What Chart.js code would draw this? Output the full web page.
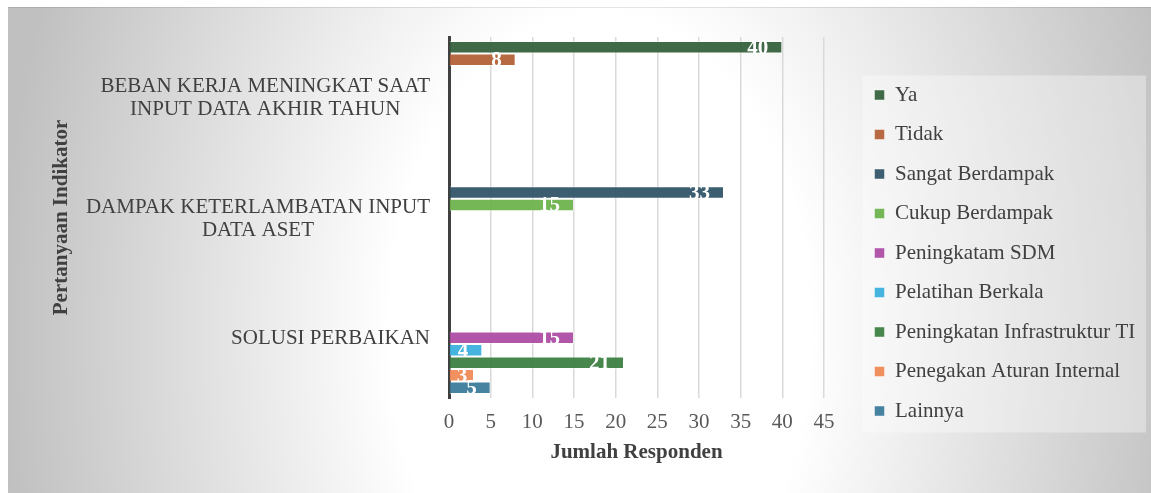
<!DOCTYPE html>
<html>
<head>
<meta charset="utf-8">
<script src="https://cdn.jsdelivr.net/npm/chart.js@4.4.1/dist/chart.umd.min.js"></script>
<style>
  html, body { margin: 0; padding: 0; background: #fff; }
</style>
</head>
<body>
<canvas id="chartCanvas" width="1151" height="493"></canvas>
<script>
    // data
    var categories = [
        ["BEBAN KERJA MENINGKAT SAAT", "INPUT DATA AKHIR TAHUN"],
        ["DAMPAK KETERLAMBATAN INPUT", "DATA ASET"],
        ["SOLUSI PERBAIKAN"]
    ];
    var seriesNames = [
        "Ya",
        "Tidak",
        "Sangat Berdampak",
        "Cukup Berdampak",
        "Peningkatam SDM",
        "Pelatihan Berkala",
        "Peningkatan Infrastruktur TI",
        "Penegakan Aturan Internal",
        "Lainnya"
    ];
    var ya = [40, null, null];
    var tidak = [8, null, null];
    var sangatBerdampak = [null, 33, null];
    var cukupBerdampak = [null, 15, null];
    var peningkatanSdm = [null, null, 15];
    var pelatihanBerkala = [null, null, 4];
    var infrastrukturTi = [null, null, 21];
    var penegakanAturan = [null, null, 3];
    var lainnya = [null, null, 5];
    var xTicks = [0, 5, 10, 15, 20, 25, 30, 35, 40, 45];

    var seriesValues = [ya, tidak, sangatBerdampak, cukupBerdampak, peningkatanSdm,
        pelatihanBerkala, infrastrukturTi, penegakanAturan, lainnya];
    var seriesColors = [
        "#325f3a",
        "#b25f34",
        "#2e5266",
        "#6bb24b",
        "#ab4aa3",
        "#3aaedd",
        "#3a7e41",
        "#ee8853",
        "#397a9a"
    ];

    var serif = '"Liberation Serif", "Times New Roman", serif';
    Chart.defaults.font.family = serif;
    Chart.defaults.font.size = 21;
    Chart.defaults.color = "#404040";

    var chartData = {
        labels: categories,
        datasets: seriesNames.map(function(name, i) {
            return {
                label: name,
                data: seriesValues[i],
                backgroundColor: seriesColors[i] + "ee",
                borderColor: "rgba(255,255,255,0.45)",
                borderWidth: 1,
                categoryPercentage: 0.935,
                barPercentage: 1
            };
        })
    };

    // gray/white radial backdrop + legend panel
    var backdrop = {
        id: "backdrop",
        afterLayout: function(chart) {
            // legend sits in its own panel, away from the plot
            var lg = chart.legend;
            if (lg) {
                lg.right = chart.width - 5;
                lg.left = lg.right - 290;
                lg.width = 290;
            }
        },
        beforeDraw: function(chart) {
            var ctx = chart.ctx;
            ctx.save();
            ctx.fillStyle = "#fff";
            ctx.fillRect(0, 0, chart.width, chart.height);
            var cx = 600, cy = 330, rx = 600, ry = 900;
            ctx.translate(cx, cy);
            ctx.scale(1, ry / rx);
            var g = ctx.createRadialGradient(0, 0, 0, 0, 0, rx);
            g.addColorStop(0, "#ffffff");
            g.addColorStop(0.35, "#ffffff");
            g.addColorStop(1, "#c0c0c0");
            ctx.fillStyle = g;
            ctx.fillRect(8 - cx, (7 - cy) * rx / ry, chart.width, chart.height * rx / ry);
            ctx.restore();

            ctx.save();
            ctx.fillStyle = "rgba(0,0,0,0.1)";
            ctx.fillRect(8, 7, chart.width - 8, 1);
            var hb = chart.legend.legendHitBoxes;
            if (hb && hb.length) {
                var l = hb[0].left - 12;
                var t = hb[0].top - 9;
                var last = hb[hb.length - 1];
                var b = last.top + last.height + 11;
                ctx.fillStyle = "rgba(255,255,255,0.35)";
                ctx.fillRect(l, t, chart.legend.right - l, b - t);
            }
            ctx.restore();
        }
    };

    var labelsPlugin = {
        id: "labelsPlugin",
        afterDatasetsDraw: function(chart) {
            var ctx = chart.ctx;
            ctx.save();
            // value labels, inside end
            ctx.font = "bold 21px " + serif;
            ctx.fillStyle = "#ffffff";
            ctx.textAlign = "right";
            ctx.textBaseline = "middle";
            chart.data.datasets.forEach(function(ds, i) {
                var meta = chart.getDatasetMeta(i);
                meta.data.forEach(function(bar, j) {
                    var v = ds.data[j];
                    if (v === null || v === undefined) return;
                    var txt = String(v);
                    var w = ctx.measureText(txt).width;
                    var right = bar.x - 14;
                    if (right - w < bar.base + 7) right = bar.base + 7 + w;
                    ctx.fillText(txt, right, bar.y + 1);
                });
            });

            // category labels: block right aligned, lines centred
            var yScale = chart.scales.y;
            ctx.font = "21px " + serif;
            ctx.fillStyle = "#404040";
            ctx.textAlign = "center";
            var edge = chart.chartArea.left - 19;
            chart.data.labels.forEach(function(lines, i) {
                var y = yScale.getPixelForTick(i) + 1;
                var widest = 0;
                lines.forEach(function(s) { widest = Math.max(widest, ctx.measureText(s).width); });
                var x = edge - widest / 2;
                lines.forEach(function(s, k) {
                    ctx.fillText(s, x, y + (k - (lines.length - 1) / 2) * 23);
                });
            });
            ctx.restore();
        }
    };

    var chartOptions = {
        responsive: false,
        animation: false,
        indexAxis: "y",
        layout: { padding: { left: 45, right: 5, top: 37, bottom: 24 } },
        scales: {
            x: {
                min: 0,
                max: 45,
                afterBuildTicks: function(s) {
                    s.ticks = xTicks.map(function(v) { return { value: v }; });
                },
                ticks: { color: "#595959", padding: 12 },
                grid: { color: "#d9d9d9", lineWidth: 1.5, drawTicks: false },
                border: { display: false },
                title: {
                    display: true,
                    text: "Jumlah Responden",
                    color: "#404040",
                    font: { weight: "bold", size: 21 },
                    padding: { top: 4, bottom: 4 }
                },
                afterFit: function(s) {
                    s.height = 71;
                    s.paddingRight = 1151 - 824;
                }
            },
            y: {
                ticks: { display: false },
                grid: { display: false },
                border: { display: true, color: "#404040", width: 3 },
                title: {
                    display: true,
                    text: "Pertanyaan Indikator",
                    color: "#404040",
                    font: { weight: "bold", size: 21 },
                    padding: { top: 4, bottom: 4 }
                },
                afterFit: function(s) {
                    s.width = 449 - 45;
                }
            }
        },
        plugins: {
            legend: {
                position: "right",
                labels: {
                    boxWidth: 10,
                    boxHeight: 10,
                    padding: 18.5,
                    color: "#404040",
                    font: { size: 21 }
                }
            },
            tooltip: { enabled: false }
        }
    };

    window.onload = function() {
        var ctx = document.getElementById("chartCanvas").getContext("2d");
        window.myBar = new Chart(ctx, {
            type: "bar",
            data: chartData,
            options: chartOptions,
            plugins: [backdrop, labelsPlugin]
        });
    };
</script>
</body>
</html>
